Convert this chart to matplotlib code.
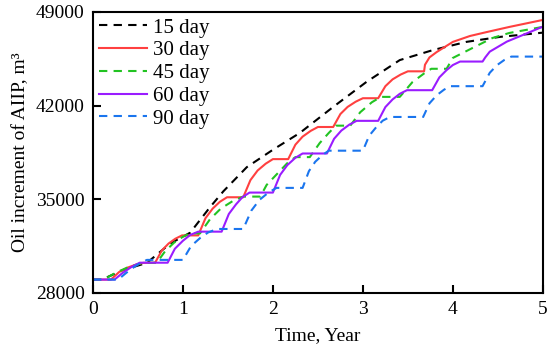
import matplotlib
matplotlib.use("Agg")
import matplotlib.pyplot as plt

# cumulative oil increment (m3) vs time (year) for each injection cycle
t_15 = [0, 0.1, 0.33, 0.6, 0.86, 1.08, 1.3, 1.45, 1.71, 2.0, 2.3, 2.67, 3.04, 3.41, 3.78, 4.15, 4.52, 5.0]
v_15 = [29000, 29000, 29700, 30250, 31700, 32500, 34400, 35600, 37400, 38700, 39960, 41900, 43770, 45400,
        46150, 46760, 47130, 47450]

t_30 = [0, 0.2, 0.29, 0.38, 0.47, 0.56, 0.69, 0.765, 0.84, 0.915, 0.99, 1.17, 1.25, 1.33, 1.41, 1.49, 1.67,
        1.75, 1.83, 1.92, 2.0, 2.17, 2.25, 2.33, 2.42, 2.5, 2.67, 2.75, 2.83, 2.92, 3.0, 3.17, 3.25, 3.33,
        3.42, 3.5, 3.68, 3.69, 3.74, 3.82, 4.0, 4.19, 4.38, 4.63, 5.0]
v_30 = [29000, 29000, 29560, 29880, 30100, 30250, 30250, 31170, 31690, 32050, 32300, 32300, 33580, 34300,
        34810, 35150, 35150, 36430, 37150, 37660, 38000, 38000, 39080, 39680, 40110, 40400, 40400, 41370,
        41900, 42290, 42550, 42550, 43450, 43960, 44320, 44560, 44560, 45050, 45600, 46000, 46760, 47200,
        47500, 47880, 48400]

t_45 = [0, 0.12, 0.25, 0.4, 0.56, 0.71, 0.8, 0.9, 1.0, 1.08, 1.19, 1.3, 1.42, 1.55, 1.67, 1.86, 1.93, 2.04,
        2.16, 2.25, 2.41, 2.52, 2.62, 2.7, 2.86, 2.97, 3.1, 3.2, 3.41, 3.55, 3.68, 3.76, 3.93, 4.0, 4.22,
        4.44, 4.63, 5.0]
v_45 = [29000, 29000, 29500, 29950, 30260, 30260, 31100, 31750, 32200, 32450, 32450, 33500, 34300, 34850,
        35200, 35200, 36070, 36850, 37700, 38150, 38150, 39200, 39950, 40500, 40500, 41500, 42250, 42650,
        42650, 43750, 44400, 44750, 44750, 45560, 46310, 47050, 47430, 47880]

t_60 = [0, 0.24, 0.33, 0.43, 0.52, 0.83, 0.91, 1.0, 1.08, 1.17, 1.43, 1.51, 1.59, 1.66, 1.74, 2.0, 2.08,
        2.16, 2.25, 2.33, 2.6, 2.68, 2.76, 2.85, 2.93, 3.17, 3.25, 3.33, 3.41, 3.49, 3.77, 3.85, 3.93, 4.0,
        4.08, 4.33, 4.36, 4.41, 4.6, 4.78, 5.0]
v_60 = [29000, 29000, 29500, 29950, 30260, 30260, 31300, 31900, 32330, 32580, 32580, 33900, 34620, 35150,
        35500, 35500, 36820, 37550, 38100, 38420, 38420, 39520, 40130, 40580, 40860, 40860, 41890, 42460,
        42880, 43150, 43150, 44110, 44650, 45030, 45290, 45290, 45600, 46030, 46780, 47280, 47900]

t_90 = [0, 0.28, 0.37, 0.46, 0.53, 0.6, 1.0, 1.09, 1.19, 1.28, 1.38, 1.67, 1.76, 1.85, 1.95, 2.04, 2.33,
        2.4, 2.47, 2.55, 2.62, 3.0, 3.07, 3.15, 3.22, 3.3, 3.67, 3.74, 3.82, 3.9, 3.97, 4.33, 4.41, 4.49,
        4.57, 4.65, 5.0]
v_90 = [29000, 29000, 29500, 29950, 30250, 30470, 30470, 31500, 32100, 32520, 32780, 32780, 34150, 34950,
        35500, 35850, 35850, 37100, 37800, 38300, 38630, 38630, 39750, 40400, 40870, 41150, 41150, 42170,
        42770, 43180, 43450, 43450, 44450, 45020, 45400, 45660, 45660]

labels = ["15 day", "30 day", "45 day", "60 day", "90 day"]
x_ticks = [0, 1, 2, 3, 4, 5]
y_ticks = [28000, 35000, 42000, 49000]

plt.rcParams["font.family"] = ["Liberation Serif", "DejaVu Serif"]
plt.rcParams["font.size"] = 14

fig = plt.figure(figsize=(5.5, 3.5), dpi=100)
ax = fig.add_axes([0.169, 0.163, 0.818, 0.803])

dash = (4, 3)
ax.plot(t_15, v_15, color="black", lw=1.5, dashes=dash, label=labels[0])
ax.plot(t_30, v_30, color="#ff4040", lw=1.5, label=labels[1])
ax.plot(t_45, v_45, color="#22c322", lw=1.5, dashes=dash, label=labels[2])
ax.plot(t_60, v_60, color="#9a1cff", lw=1.5, label=labels[3])
ax.plot(t_90, v_90, color="#1a75ee", lw=1.5, dashes=dash, label=labels[4])

ax.set_xlim(0, 5)
ax.set_ylim(28000, 49000)
ax.set_xticks(x_ticks)
ax.set_yticks(y_ticks)
ax.tick_params(direction="in", length=6, width=1.5, pad=6)
for sp in ax.spines.values():
    sp.set_linewidth(1.5)

ax.set_xlabel("Time, Year", labelpad=6)
ax.set_ylabel("Oil increment of AIIP, m³", labelpad=5)

ax.legend(loc="upper left", frameon=False, fontsize=15, handlelength=2.3, handletextpad=0.3,
          labelspacing=0.15, borderaxespad=0.1, borderpad=0.2)

fig.savefig("out.png", dpi=100)
